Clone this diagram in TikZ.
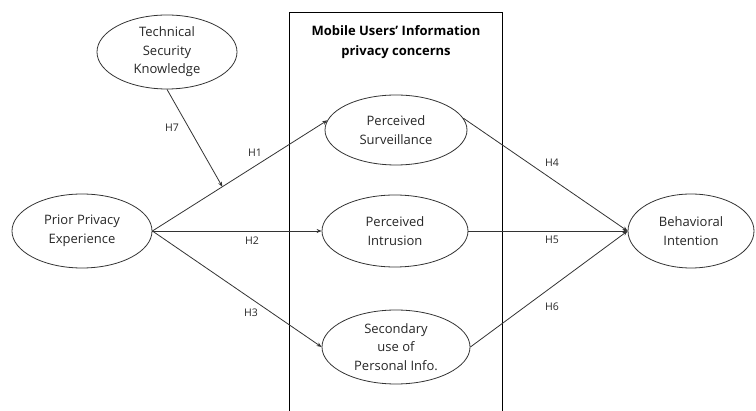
\documentclass[tikz,border=0pt]{standalone}
\usepackage{fontspec}
\setmainfont{Open Sans}
\usetikzlibrary{shapes.geometric,arrows.meta,calc}
\begin{document}
\begin{tikzpicture}[x=1pt,y=-1pt,
  construct/.style={draw=black!80,line width=0.8pt,ellipse,inner sep=0pt,align=center,
    font=\fontsize{13}{18.5}\selectfont,text=black!85},
  link/.style={draw=black!80,line width=0.8pt,-{Stealth[length=5pt,width=4pt]}},
  hlabel/.style={font=\fontsize{10.5}{12}\selectfont,text=black!85}]
\useasboundingbox (0,0) rectangle (756,411);
% frame
\draw[line width=0.8pt] (289,411) -- (289,12) -- (502,12) -- (502,411);
\node[font=\fontsize{13}{20}\selectfont\bfseries,align=center] (title) at (396,42) {Mobile Users' Information\\privacy concerns};
% constructs
\node[construct,minimum width=140pt,minimum height=74pt] (tsk) at (167,52) {Technical\\Security\\Knowledge};
\node[construct,minimum width=140pt,minimum height=74pt] (prior) at (82,231) {Prior Privacy\\Experience};
\node[construct,minimum width=142pt,minimum height=70pt] (surv) at (396,130) {Perceived\\Surveillance};
\node[construct,minimum width=146pt,minimum height=72pt] (intr) at (395,231) {Perceived\\Intrusion};
\node[construct,minimum width=148pt,minimum height=74pt] (sec) at (396,347) {Secondary\\use of\\Personal Info.};
\node[construct,minimum width=126pt,minimum height=74pt] (beh) at (691,231) {Behavioral\\Intention};
% connectors
\draw[link] (prior.east) -- (surv.172);
\draw[link] (prior.east) -- (intr.west);
\draw[link] (prior.east) -- (sec.west);
\coordinate (mod) at ($(prior.east)!0.4!(surv.172)$);
\draw[link] (tsk.south) -- (mod);
\draw[link] (surv.10) -- (beh.west);
\draw[link] (intr.east) -- (beh.west);
\draw[link] (sec.east) -- (beh.west);
% labels
\node[hlabel] (h7) at (172,128) {H7};
\node[hlabel] (h1) at (255,153) {H1};
\node[hlabel] (h2) at (252,241) {H2};
\node[hlabel] (h3) at (251,313) {H3};
\node[hlabel] (h4) at (552,163) {H4};
\node[hlabel] (h5) at (552,240) {H5};
\node[hlabel] (h6) at (552,307) {H6};
\end{tikzpicture}
\end{document}
